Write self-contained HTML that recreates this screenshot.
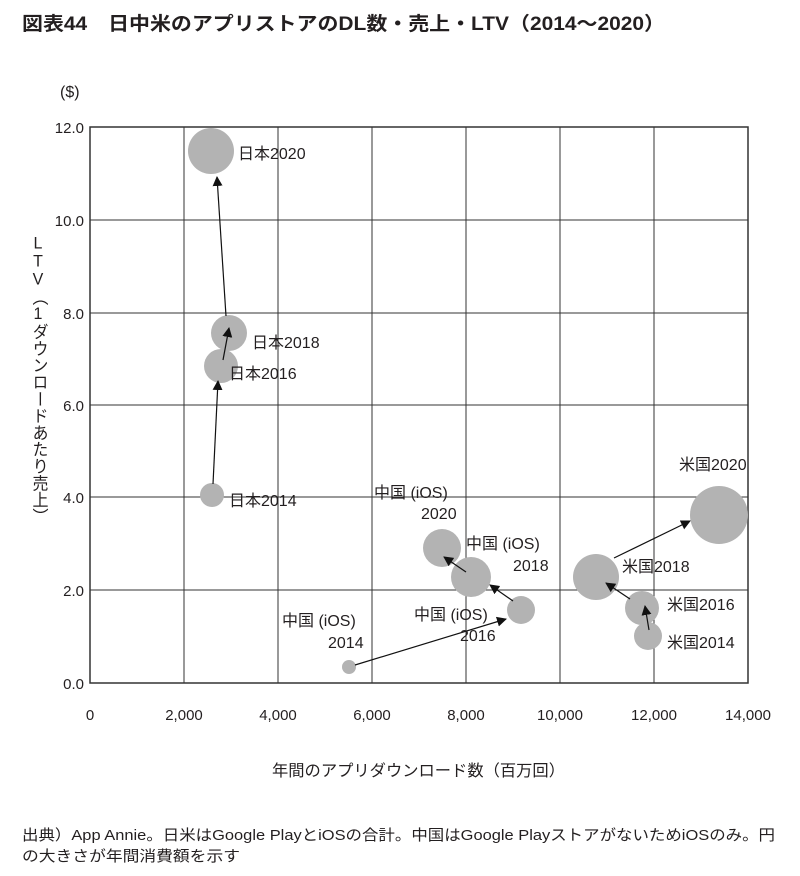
<!DOCTYPE html>
<html><head><meta charset="utf-8"><style>
body{margin:0;background:#fff;}
svg text{font-family:"Liberation Sans","Noto Sans CJK JP",sans-serif;fill:#231f20;}
</style></head><body>
<svg width="800" height="871" viewBox="0 0 800 871" xmlns="http://www.w3.org/2000/svg">
<defs><marker id="a" markerWidth="10" markerHeight="10" refX="9" refY="5" orient="auto" markerUnits="userSpaceOnUse"><path d="M0,0 L10,5 L0,10 z" fill="#111"/></marker></defs>
<text x="22" y="30" font-size="19" font-weight="bold" textLength="643" lengthAdjust="spacingAndGlyphs">図表44　日中米のアプリストアのDL数・売上・LTV（2014〜2020）</text>
<text x="60" y="97" font-size="16">($)</text>
<g stroke="#333" stroke-width="1">
<line x1="184" y1="127" x2="184" y2="683"/><line x1="278" y1="127" x2="278" y2="683"/>
<line x1="372" y1="127" x2="372" y2="683"/><line x1="466" y1="127" x2="466" y2="683"/>
<line x1="560" y1="127" x2="560" y2="683"/><line x1="654" y1="127" x2="654" y2="683"/>
<line x1="90" y1="220" x2="748" y2="220"/><line x1="90" y1="313" x2="748" y2="313"/>
<line x1="90" y1="405" x2="748" y2="405"/><line x1="90" y1="497" x2="748" y2="497"/>
<line x1="90" y1="590" x2="748" y2="590"/>
<rect x="90" y="127" width="658" height="556" fill="none" stroke-width="1.5"/>
</g>
<g font-size="15" text-anchor="end">
<text x="84" y="133">12.0</text><text x="84" y="226">10.0</text><text x="84" y="319">8.0</text>
<text x="84" y="411">6.0</text><text x="84" y="503">4.0</text><text x="84" y="596">2.0</text><text x="84" y="689">0.0</text>
</g>
<g font-size="15" text-anchor="middle">
<text x="90" y="720">0</text><text x="184" y="720">2,000</text><text x="278" y="720">4,000</text>
<text x="372" y="720">6,000</text><text x="466" y="720">8,000</text><text x="560" y="720">10,000</text>
<text x="654" y="720">12,000</text><text x="748" y="720">14,000</text>
</g>
<text x="272" y="776" font-size="16" textLength="293" lengthAdjust="spacingAndGlyphs">年間のアプリダウンロード数（百万回）</text>
<text font-size="16" x="38" y="235" writing-mode="tb" style="text-orientation:upright" textLength="290" lengthAdjust="spacingAndGlyphs">LTV（1ダウンロードあたり売上）</text>
<g fill="#b3b3b3">
<circle cx="211" cy="151" r="23"/><circle cx="229" cy="333" r="18"/><circle cx="221" cy="366" r="17"/><circle cx="212" cy="495" r="12"/>
<circle cx="442" cy="548" r="19"/><circle cx="471" cy="577" r="20"/><circle cx="521" cy="610" r="14"/><circle cx="349" cy="667" r="7"/>
<circle cx="719" cy="515" r="29"/><circle cx="596" cy="577" r="23"/><circle cx="642" cy="608" r="17"/><circle cx="648" cy="636" r="14"/>
</g>
<g stroke="#111" stroke-width="1.2" marker-end="url(#a)">
<line x1="213" y1="484" x2="218" y2="381"/><line x1="223" y1="360" x2="229" y2="328"/>
<line x1="226" y1="316" x2="217" y2="177"/>
<line x1="355" y1="665" x2="506" y2="619"/><line x1="513" y1="601" x2="490" y2="585"/>
<line x1="466" y1="572" x2="444" y2="557"/>
<line x1="649" y1="630" x2="645" y2="606"/><line x1="630" y1="599" x2="606" y2="583"/>
<line x1="614" y1="558" x2="690" y2="521"/>
</g>
<g font-size="16">
<text x="238" y="159">日本2020</text><text x="252" y="348">日本2018</text><text x="229" y="379">日本2016</text><text x="229" y="506">日本2014</text>
<text x="374" y="498">中国 (iOS)</text><text x="421" y="519">2020</text>
<text x="466" y="549">中国 (iOS)</text><text x="513" y="571">2018</text>
<text x="414" y="620">中国 (iOS)</text><text x="460" y="641">2016</text>
<text x="282" y="626">中国 (iOS)</text><text x="328" y="648">2014</text>
<text x="679" y="470">米国2020</text><text x="622" y="572">米国2018</text><text x="667" y="610">米国2016</text><text x="667" y="648">米国2014</text>
</g>
<g font-size="15">
<text x="22" y="840" textLength="753" lengthAdjust="spacingAndGlyphs">出典）App Annie。日米はGoogle PlayとiOSの合計。中国はGoogle PlayストアがないためiOSのみ。円</text>
<text x="22" y="861" textLength="218" lengthAdjust="spacingAndGlyphs">の大きさが年間消費額を示す</text>
</g>
</svg>
</body></html>
